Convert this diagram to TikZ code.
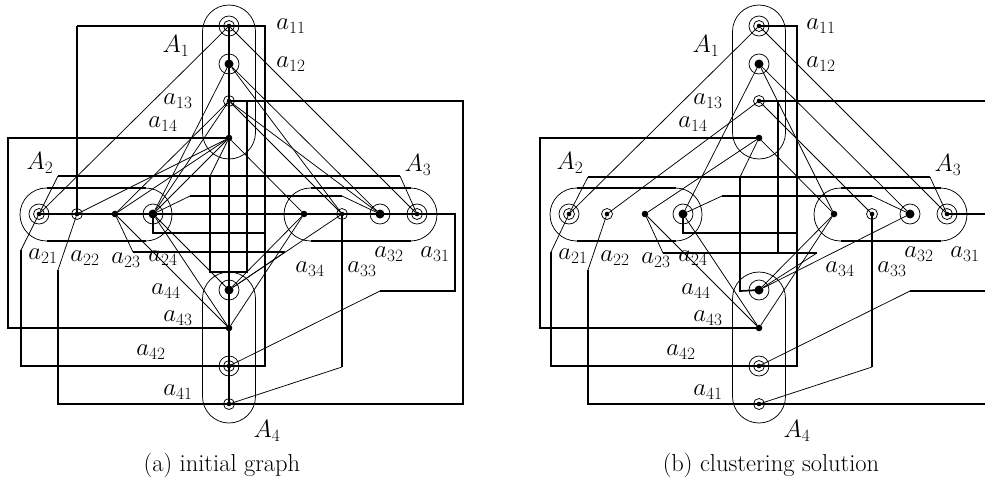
\documentclass[tikz,border=0pt]{standalone}
\begin{document}
\begin{tikzpicture}[x=1pt,y=-1pt,
  ort/.style={line width=1.7pt},
  tl/.style={line width=0.75pt},
  dS/.style={circle,fill,inner sep=0pt,minimum size=4.6pt},
  dB/.style={circle,fill,inner sep=0pt,minimum size=9pt},
  dM/.style={circle,fill,inner sep=0pt,minimum size=6.6pt},
  lab/.style={inner sep=0pt,font=\fontsize{24.5}{29}\selectfont}]
\useasboundingbox (0,0) rectangle (985,482);
\newcommand\clusterbase[1]{%
  \node[dS] (#111) at (229,26) {};
  \node[dB] (#112) at (229,64) {};
  \node[dS] (#113) at (229,101) {};
  \node[dM] (#114) at (229,138) {};
  \node[dS] (#121) at (39,214) {};
  \node[dS] (#122) at (77,214) {};
  \node[dM] (#123) at (115,214) {};
  \node[dB] (#124) at (153,214) {};
  \node[dS] (#131) at (417,214) {};
  \node[dB] (#132) at (380,214) {};
  \node[dS] (#133) at (342,214) {};
  \node[dM] (#134) at (304,214) {};
  \node[dB] (#144) at (229,290) {};
  \node[dM] (#143) at (229,328) {};
  \node[dS] (#142) at (229,366) {};
  \node[dS] (#141) at (229,404) {};
  \foreach \n in {11,21,31,42} {\draw[tl] (#1\n) circle[radius=5.5] (#1\n) circle[radius=10];}
  \foreach \n in {12,24,32,44} {\draw[tl] (#1\n) circle[radius=10];}
  \foreach \n in {13,22,33,41} {\draw[tl] (#1\n) circle[radius=5.5];}
  % hulls
  \draw[tl,rounded corners=26.5pt] (202.5,5) rectangle (255.5,159);
  \draw[ort] (202.5,31.5) -- (202.5,132.5) (255.5,31.5) -- (255.5,132.5);
  \draw[tl,rounded corners=26.5pt] (202.5,272) rectangle (255.5,423);
  \draw[ort] (202.5,298.5) -- (202.5,396.5) (255.5,298.5) -- (255.5,396.5);
  \draw[tl,rounded corners=26.5pt] (20,188) rectangle (172,241);
  \draw[ort] (46.5,188) -- (145.5,188) (46.5,241) -- (145.5,241);
  \draw[tl,rounded corners=26.5pt] (284,188) rectangle (437,241);
  \draw[ort] (310.5,188) -- (410.5,188) (310.5,241) -- (410.5,241);
  % labels
  \node[lab] (#1L1) at (176,46) {$A_1$};
  \node[lab] (#1L2) at (40,163) {$A_2$};
  \node[lab] (#1L3) at (418,165) {$A_3$};
  \node[lab] (#1L4) at (267,431) {$A_4$};
  \node[lab] (#1l11) at (291,26) {$a_{11}$};
  \node[lab] (#1l12) at (291,64) {$a_{12}$};
  \node[lab] (#1l13) at (178,101) {$a_{13}$};
  \node[lab] (#1l14) at (163,124) {$a_{14}$};
  \node[lab] (#1l21) at (43,256) {$a_{21}$};
  \node[lab] (#1l22) at (85,258) {$a_{22}$};
  \node[lab] (#1l23) at (126,260) {$a_{23}$};
  \node[lab] (#1l24) at (163,258) {$a_{24}$};
  \node[lab] (#1l32) at (389,254) {$a_{32}$};
  \node[lab] (#1l31) at (435,254) {$a_{31}$};
  \node[lab] (#1l34) at (310,269) {$a_{34}$};
  \node[lab] (#1l33) at (362,269) {$a_{33}$};
  \node[lab] (#1l44) at (166,291) {$a_{44}$};
  \node[lab] (#1l43) at (178,318) {$a_{43}$};
  \node[lab] (#1l42) at (151,352) {$a_{42}$};
  \node[lab] (#1l41) at (178,392) {$a_{41}$};
}
% ---------------- (a) initial graph
\clusterbase{a}
\draw[ort] (a11.center) -- (a41.center);
\draw[ort] (a21.center) -- (455,214) -- (455,291) -- (380,291);
\draw[tl] (380,291) -- (a42);
\draw[ort] (77,26) -- (265,26) -- (265,366) -- (a42.center);
\draw[ort] (77,26) -- (a22.center);
\draw[ort] (a13.center) -- (463,101) -- (463,404) -- (58,404) -- (58,270);
\draw[tl] (58,270) -- (a22);
\draw[ort] (a14.center) -- (8,138) -- (8,328) -- (a43.center);
\draw[tl] (a21) -- (21,250);
\draw[ort] (21,250) -- (21,366) -- (a42.center);
\draw[tl] (a21) -- (58,176) (400,176) -- (a31);
\draw[ort] (58,176) -- (400,176);
\draw[tl] (a24) -- (190,196) (342,196) -- (a32);
\draw[ort] (190,196) -- (342,196);
\draw[tl] (a23) -- (133,252) (285,252) -- (a44);
\draw[ort] (133,252) -- (285,252);
\draw[ort] (a24.center) -- (153,233) -- (265,233);
\draw[ort] (a33.center) -- (342,367);
\draw[tl] (342,367) -- (a41);
\draw[tl] (a14) -- (210,176);
\draw[ort] (210,176) -- (210,272) -- (247,272) -- (247,101);
\foreach \u/\v in {11/21,11/31,12/24,12/32,12/33,13/23,13/24,13/33,13/32,14/22,14/23,14/24,14/34,23/43,24/43,34/43,44/34,44/33,44/24}
  \draw[tl] (a\u) -- (a\v);
\node[lab] (capa) at (222,465) {(a) initial graph};
% ---------------- (b) clustering solution
\begin{scope}[xshift=530pt]
\clusterbase{b}
\draw[ort] (b11.center) -- (267,26) -- (267,366) -- (b42.center);
\draw[ort] (b13.center) -- (455,101);
\draw[ort] (b41.center) -- (455,404);
\draw[ort] (b31.center) -- (455,214);
\draw[ort] (455,291) -- (380,291);
\draw[tl] (380,291) -- (b42);
\draw[tl] (b22) -- (58,270);
\draw[ort] (58,270) -- (58,404) -- (b41.center);
\draw[ort] (b14.center) -- (10,138) -- (10,328) -- (b43.center);
\draw[tl] (b21) -- (21,252);
\draw[ort] (21,252) -- (21,366) -- (b42.center);
\draw[tl] (b21) -- (58,177) (400,177) -- (b31);
\draw[ort] (58,177) -- (400,177);
\draw[tl] (b24) -- (192,196) (342,196) -- (b32);
\draw[ort] (192,196) -- (342,196);
\draw[tl] (b23) -- (133,253) (287,253) -- (b44);
\draw[ort] (133,253) -- (287,253);
\draw[ort] (b24.center) -- (153,233) -- (267,233);
\draw[ort] (b33.center) -- (342,367);
\draw[tl] (342,367) -- (b41);
\draw[tl] (b14) -- (210,177);
\draw[ort] (210,177) -- (210,291) -- (b44.center);
\draw[ort] (248,101) -- (248,253);
\foreach \u/\v in {11/21,11/31,12/24,12/32,12/34,13/22,13/33,14/23,14/34,44/34,44/32,43/24,43/23,43/34}
  \draw[tl] (b\u) -- (b\v);
\node[lab] (capb) at (241,465) {(b) clustering solution};
\end{scope}
\end{tikzpicture}
\end{document}
